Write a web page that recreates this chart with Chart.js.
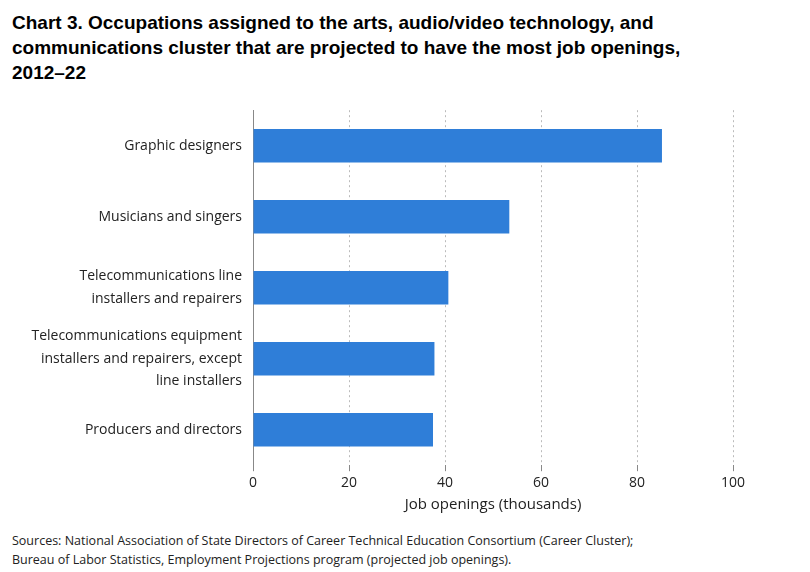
<!DOCTYPE html>
<html><head><meta charset="utf-8">
<script src="https://cdn.jsdelivr.net/npm/chart.js@4"></script>
<style>
body{margin:0;width:810px;height:572px;background:#fff;font-family:"Open Sans",Arial,sans-serif;position:relative;overflow:hidden}
#t{position:absolute;left:12px;top:10px;font:bold 19px "Liberation Sans",Arial,sans-serif;line-height:25px;color:#000;width:700px}
#c{position:absolute;left:0;top:96px;width:790px;height:418px}
#s{position:absolute;left:12px;top:531px;font-size:12.5px;line-height:19px;color:#222}
</style></head><body>
<div id="t">Chart 3. Occupations assigned to the arts, audio/video technology, and communications cluster that are projected to have the most job openings, 2012–22</div>
<div id="c"><canvas id="cv"></canvas></div>
<div id="s">Sources: National Association of State Directors of Career Technical Education Consortium (Career Cluster);<br>Bureau of Labor Statistics, Employment Projections program (projected job openings).</div>
<script>
const categories=[["Graphic designers"],["Musicians and singers"],["Telecommunications line","installers and repairers"],["Telecommunications equipment","installers and repairers, except","line installers"],["Producers and directors"]];
const values=[85.2,53.4,40.7,37.8,37.5];
const xTicks=[0,20,40,60,80,100];
new Chart(document.getElementById('cv'),{type:'bar',
data:{labels:categories,datasets:[{data:values,backgroundColor:'#2f7ed8',barPercentage:0.47,categoryPercentage:1}]},
options:{indexAxis:'y',responsive:true,maintainAspectRatio:false,animation:false,
layout:{padding:{left:0,right:57,top:0,bottom:0}},
plugins:{legend:{display:false},tooltip:{enabled:false}},
scales:{x:{min:0,max:100,afterBuildTicks:a=>{a.ticks=xTicks.map(v=>({value:v}))},
grid:{color:'#bbb',drawTicks:true,tickColor:'#888',tickLength:6},
border:{display:false,dash:[2,3]},
ticks:{color:'#222',font:{size:14,family:'"Open Sans",Arial'}},
title:{display:true,text:'Job openings (thousands)',color:'#222',font:{size:15,family:'"Open Sans",Arial'},padding:{top:2,bottom:0}}},
y:{grid:{display:false},border:{display:true,color:'#888'},
ticks:{autoSkip:false,color:'#222',font:{size:14,family:'"Open Sans",Arial',lineHeight:1.6}},afterFit:s=>{s.width=253}}}}});
</script></body></html>
